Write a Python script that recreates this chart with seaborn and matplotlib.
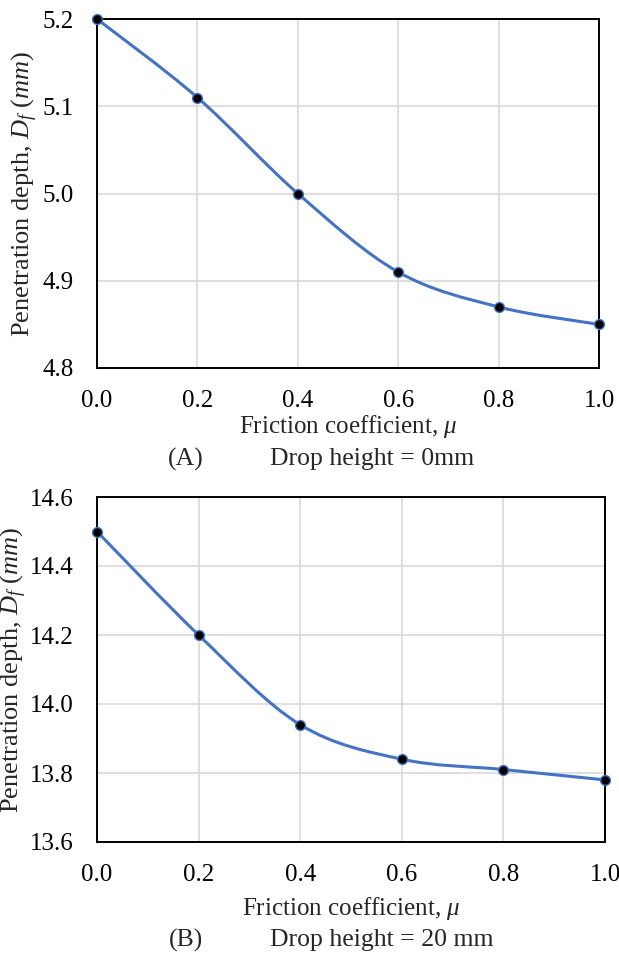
import numpy as np
import matplotlib
matplotlib.use("Agg")
import matplotlib.pyplot as plt
from matplotlib.path import Path
from matplotlib.patches import PathPatch
import seaborn as sns

# data
friction = [0.0, 0.2, 0.4, 0.6, 0.8, 1.0]
depth_0mm = [5.20, 5.11, 5.00, 4.91, 4.87, 4.85]
depth_20mm = [14.50, 14.20, 13.94, 13.84, 13.81, 13.78]
xticks = [0.0, 0.2, 0.4, 0.6, 0.8, 1.0]
yticks_a = [4.8, 4.9, 5.0, 5.1, 5.2]
yticks_b = [13.6, 13.8, 14.0, 14.2, 14.4, 14.6]

sns.set_style("white")
plt.rcParams["font.family"] = ["Liberation Serif", "DejaVu Serif"]
plt.rcParams["mathtext.fontset"] = "custom"
plt.rcParams["mathtext.rm"] = "Liberation Serif"
plt.rcParams["mathtext.it"] = "Liberation Serif:italic"

LINE = "#4472C4"
GRID = "#d9d9d9"
W, H = 619, 966


def smooth_path(x, y):
    # Excel-style smoothed line as cubic Bezier segments
    pts = np.column_stack([x, y])
    verts = [pts[0]]
    codes = [Path.MOVETO]
    n = len(pts)
    for i in range(n - 1):
        p0 = pts[max(i - 1, 0)]
        p1 = pts[i]
        p2 = pts[i + 1]
        p3 = pts[min(i + 2, n - 1)]
        verts += [p1 + (p2 - p0) / 6.0, p2 - (p3 - p1) / 6.0, p2]
        codes += [Path.CURVE4] * 3
    return Path(verts, codes)


def panel(ax, y, yticks, xlab_y, ylab_x):
    ax.add_patch(PathPatch(smooth_path(friction, y), facecolor="none",
                           edgecolor=LINE, lw=2.2, zorder=3))
    sns.scatterplot(x=friction, y=y, ax=ax, color="black", s=50,
                    edgecolor=LINE, linewidth=1.0, zorder=4, clip_on=False)
    ax.set_xlim(0, 1)
    ax.set_ylim(yticks[0], yticks[-1])
    ax.set_xticks(xticks)
    ax.set_xticklabels([f"{v:.1f}" for v in xticks])
    ax.set_yticks(yticks)
    ax.set_yticklabels([f"{v:.1f}" for v in yticks])
    ax.grid(True, color=GRID, lw=1.2)
    ax.set_axisbelow(True)
    for s in ax.spines.values():
        s.set_color("black")
        s.set_linewidth(1.4)
    ax.tick_params(axis="both", length=0, labelsize=18, colors="black")
    ax.tick_params(axis="y", pad=17)
    ax.tick_params(axis="x", pad=16)
    ax.set_xlabel("Friction coefficient, $\\mu$", fontsize=18, va="center")
    ax.set_ylabel("Penetration depth, $D_f$ $(mm)$", fontsize=19, va="center")
    ax.xaxis.set_label_coords(0.5, xlab_y)
    ax.yaxis.set_label_coords(ylab_x, 0.5)


fig = plt.figure(figsize=(W / 100, H / 100), dpi=100)
ax1 = fig.add_axes([97 / W, 1 - 368 / H, (599 - 97) / W, (368 - 19) / H])
ax2 = fig.add_axes([97 / W, 1 - 842 / H, (605 - 97) / W, (842 - 497) / H])

panel(ax1, depth_0mm, yticks_a, (368 - 427) / 349, (25 - 97) / 502)
panel(ax2, depth_20mm, yticks_b, (842 - 909) / 345, (14 - 97) / 508)

fig.text(186 / W, 1 - 459 / H, "(A)", fontsize=18.5, ha="center", va="center")
fig.text(270 / W, 1 - 459 / H, "Drop height = 0mm", fontsize=18.5, ha="left", va="center")
fig.text(186 / W, 1 - 940 / H, "(B)", fontsize=18.5, ha="center", va="center")
fig.text(270 / W, 1 - 940 / H, "Drop height = 20 mm", fontsize=18.5, ha="left", va="center")

fig.savefig("out.png", dpi=100, facecolor="white")
